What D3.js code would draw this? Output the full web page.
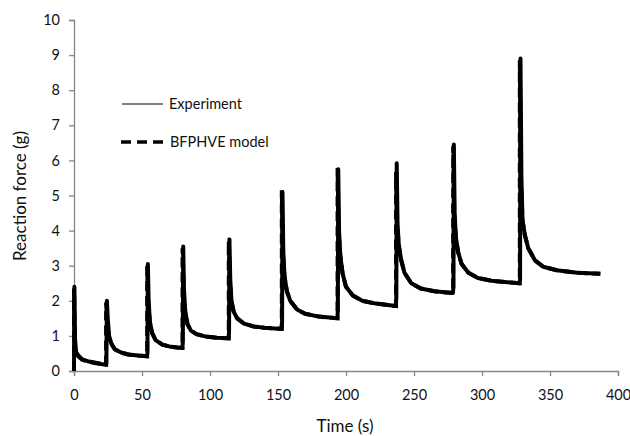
<!DOCTYPE html>
<html>
<head>
<meta charset="utf-8">
<script src="https://cdn.jsdelivr.net/npm/d3@7"></script>
<style>
  body { margin: 0; background: #fff; }
  text { font-family: Lato, "Open Sans", sans-serif; fill: #111; }
</style>
</head>
<body>
<div id="chart"></div>
<script>
// valeurs
var expTime  = [0, 0.3, 0.8, 1.5, 3, 6, 10, 15, 20, 23.3,
  23.8, 24.2, 24.8, 25.8, 27.5, 30, 35, 40, 47, 53.6,
  54, 54.3, 54.9, 55.8, 57.5, 60, 65, 70, 76, 79.7,
  80, 80.3, 80.9, 81.8, 83.5, 86, 90, 97, 105, 113.6,
  114, 114.3, 114.9, 115.8, 117.5, 120, 125, 132, 140, 152.6,
  153, 153.3, 153.9, 154.8, 156.5, 159, 164, 170, 180, 193.6,
  194, 194.3, 194.9, 195.8, 197.5, 200, 205, 212, 222, 236.6,
  237, 237.3, 237.9, 238.8, 240.5, 243, 248, 255, 265, 278.6,
  279, 279.3, 279.9, 280.8, 282.5, 285, 290, 297, 307, 327.6,
  328, 328.3, 329, 329.8, 331.5, 334, 339, 345, 355, 370, 387];
var expForce = [0, 2.4, 0.9, 0.55, 0.45, 0.33, 0.28, 0.24, 0.2, 0.18,
  0.22, 2.0, 1.5, 1.0, 0.78, 0.62, 0.52, 0.47, 0.44, 0.42,
  0.5, 3.05, 2.0, 1.4, 1.08, 0.88, 0.75, 0.7, 0.67, 0.66,
  0.8, 3.55, 2.3, 1.7, 1.33, 1.15, 1.05, 0.98, 0.95, 0.93,
  1.1, 3.75, 2.6, 2.0, 1.68, 1.5, 1.35, 1.27, 1.23, 1.2,
  1.4, 5.1, 3.4, 2.7, 2.28, 2.0, 1.75, 1.63, 1.55, 1.5,
  1.7, 5.75, 4.0, 3.3, 2.78, 2.4, 2.15, 2.0, 1.92, 1.85,
  2.1, 5.92, 4.2, 3.6, 3.18, 2.8, 2.5, 2.35, 2.27, 2.22,
  2.4, 6.45, 4.5, 3.8, 3.38, 3.05, 2.8, 2.65, 2.57, 2.5,
  2.6, 8.9, 5.5, 4.3, 3.88, 3.5, 3.15, 2.97, 2.87, 2.8, 2.77];

var modelTime  = [0, 0, 0.6, 1.5, 3, 6, 10, 15, 20, 23.6,
  23.6, 24.4, 25.5, 27.5, 30, 35, 40, 47, 53.8,
  53.8, 54.6, 55.8, 57.5, 60, 65, 70, 76, 79.8,
  79.8, 80.6, 81.8, 83.5, 86, 90, 97, 105, 113.8,
  113.8, 114.6, 115.8, 117.5, 120, 125, 132, 140, 152.8,
  152.8, 153.6, 154.8, 156.5, 159, 164, 170, 180, 193.8,
  193.8, 194.6, 195.8, 197.5, 200, 205, 212, 222, 236.8,
  236.8, 237.6, 238.8, 240.5, 243, 248, 255, 265, 278.8,
  278.8, 279.6, 280.8, 282.5, 285, 290, 297, 307, 327.8,
  327.8, 328.6, 329.8, 331.5, 334, 339, 345, 355, 370, 387];
var modelForce = [0, 2.35, 0.7, 0.5, 0.42, 0.32, 0.27, 0.23, 0.2, 0.18,
  1.95, 1.45, 0.98, 0.77, 0.62, 0.52, 0.47, 0.44, 0.42,
  3.0, 1.95, 1.38, 1.07, 0.88, 0.75, 0.7, 0.67, 0.66,
  3.5, 2.25, 1.68, 1.32, 1.15, 1.05, 0.98, 0.95, 0.93,
  3.7, 2.55, 1.98, 1.67, 1.5, 1.35, 1.27, 1.23, 1.2,
  5.15, 3.35, 2.68, 2.27, 2.0, 1.75, 1.63, 1.55, 1.5,
  5.78, 3.95, 3.28, 2.77, 2.4, 2.15, 2.0, 1.92, 1.85,
  5.67, 4.15, 3.58, 3.17, 2.8, 2.5, 2.35, 2.27, 2.22,
  6.4, 4.45, 3.78, 3.37, 3.05, 2.8, 2.65, 2.57, 2.5,
  8.85, 5.4, 4.28, 3.87, 3.5, 3.15, 2.97, 2.87, 2.8, 2.77];

var xTicks = [0, 50, 100, 150, 200, 250, 300, 350, 400];
var yTicks = [0, 1, 2, 3, 4, 5, 6, 7, 8, 9, 10];
var legendLabels = ["Experiment", "BFPHVE model"];

var width = 630, height = 436;
var margin = {left: 74, right: 12, top: 20, bottom: 65};

var svg = d3.select("#chart").append("svg")
  .attr("width", width)
  .attr("height", height);

var x = d3.scaleLinear().domain([0, 400]).range([margin.left, width - margin.right]);
var y = d3.scaleLinear().domain([0, 10]).range([height - margin.bottom, margin.top]);

var axisColor = "#868686";

// axe X
var gx = svg.append("g")
  .attr("transform", "translate(0," + y(0) + ")")
  .call(d3.axisBottom(x).tickValues(xTicks).tickSize(5).tickPadding(14).tickFormat(d3.format("d")));
gx.select(".domain").attr("stroke", axisColor).attr("stroke-width", 1.3);
gx.selectAll(".tick line").attr("stroke", axisColor).attr("stroke-width", 1.3);
gx.selectAll(".tick text").style("font-size", "14.5px").attr("fill", "#111");

// axe Y
var gy = svg.append("g")
  .attr("transform", "translate(" + x(0) + ",0)")
  .call(d3.axisLeft(y).tickValues(yTicks).tickSize(5).tickPadding(9).tickFormat(d3.format("d")));
gy.select(".domain").attr("stroke", axisColor).attr("stroke-width", 1.3);
gy.selectAll(".tick line").attr("stroke", axisColor).attr("stroke-width", 1.3);
gy.selectAll(".tick text").style("font-size", "14.5px").attr("fill", "#111");

// titres
svg.append("text")
  .attr("x", 345).attr("y", 432)
  .attr("text-anchor", "middle")
  .style("font-size", "17px")
  .text("Time (s)");
svg.append("text")
  .attr("transform", "translate(26,196) rotate(-90)")
  .attr("text-anchor", "middle")
  .style("font-size", "17px")
  .text("Reaction force (g)");

// courbes
var line = d3.line()
  .x(function(d) { return x(d[0]); })
  .y(function(d) { return y(d[1]); });

var expData = expTime.map(function(t, i) { return [t, expForce[i]]; });
var modelData = modelTime.map(function(t, i) { return [t, modelForce[i]]; });

svg.append("path")
  .datum(expData)
  .attr("fill", "none")
  .attr("stroke", "#000")
  .attr("stroke-width", 4)
  .attr("stroke-linejoin", "round")
  .attr("d", line);

svg.append("path")
  .datum(modelData)
  .attr("fill", "none")
  .attr("stroke", "#000")
  .attr("stroke-width", 4)
  .attr("stroke-dasharray", "10,5")
  .attr("d", line);

// légende
svg.append("line")
  .attr("x1", 122).attr("x2", 163).attr("y1", 104).attr("y2", 104)
  .attr("stroke", "#000").attr("stroke-width", 1);
svg.append("text")
  .attr("x", 169).attr("y", 109)
  .style("font-size", "14.5px")
  .text(legendLabels[0]);
svg.append("line")
  .attr("x1", 121).attr("x2", 165).attr("y1", 142).attr("y2", 142)
  .attr("stroke", "#000").attr("stroke-width", 3.5)
  .attr("stroke-dasharray", "10,6");
svg.append("text")
  .attr("x", 170).attr("y", 147)
  .style("font-size", "14.5px")
  .text(legendLabels[1]);
</script>
</body>
</html>
